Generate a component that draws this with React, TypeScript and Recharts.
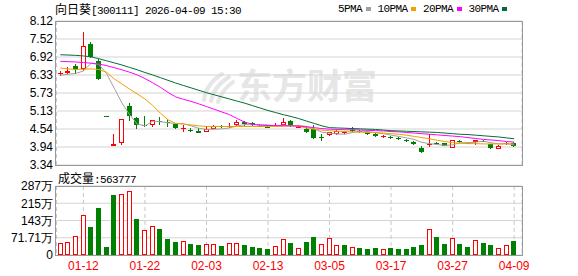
import React from "react";
import { ComposedChart, Bar, Line, XAxis, YAxis, CartesianGrid } from "recharts";

const dates = ["01-07","01-08","01-09","01-12","01-13","01-14","01-15","01-16","01-19","01-20","01-21","01-22","01-23","01-26","01-27","01-28","01-29","01-30","02-02","02-03","02-04","02-05","02-06","02-09","02-10","02-11","02-12","02-13","02-24","02-25","02-26","02-27","03-02","03-03","03-04","03-05","03-06","03-09","03-10","03-11","03-12","03-13","03-16","03-17","03-18","03-19","03-20","03-23","03-24","03-25","03-26","03-27","03-30","03-31","04-01","04-02","04-03","04-07","04-08","04-09"];

const opens = [6.38,6.39,6.64,6.53,7.34,6.80,4.97,3.98,4.08,5.30,4.90,4.68,4.67,4.82,4.78,4.69,4.55,4.52,4.48,4.45,4.55,4.63,4.60,4.67,4.76,4.73,4.66,4.60,4.65,4.67,4.81,4.60,4.55,4.53,4.27,4.34,4.36,4.42,4.52,4.47,4.45,4.38,4.28,4.28,4.23,4.17,4.12,3.90,4.02,4.07,4.06,3.92,4.13,4.10,4.10,4.14,4.03,3.88,4.05,4.08];
const highs = [6.47,6.58,6.69,7.74,7.41,6.86,4.97,4.36,4.86,5.41,4.94,4.97,4.85,4.94,4.86,4.71,4.67,4.58,4.56,4.62,4.66,4.67,4.73,4.84,4.79,4.76,4.70,4.64,4.73,4.90,4.82,4.66,4.60,4.67,4.37,4.44,4.50,4.48,4.60,4.50,4.47,4.40,4.34,4.30,4.27,4.21,4.14,3.97,4.36,4.10,4.08,4.18,4.18,4.12,4.18,4.18,4.05,3.99,4.10,4.10];
const lows = [6.30,6.36,6.36,6.47,6.89,6.16,4.97,3.98,3.99,4.81,4.55,4.61,4.61,4.67,4.61,4.54,4.45,4.43,4.40,4.42,4.53,4.56,4.56,4.65,4.65,4.64,4.60,4.56,4.64,4.66,4.60,4.57,4.40,4.21,4.15,4.30,4.34,4.38,4.44,4.40,4.34,4.28,4.24,4.20,4.17,4.12,4.02,3.73,3.93,4.00,3.96,3.90,4.08,4.03,4.01,4.10,3.88,3.86,4.02,3.94];
const closes = [6.39,6.47,6.53,7.30,6.91,6.21,4.97,4.05,4.86,4.95,4.66,4.67,4.83,4.80,4.77,4.56,4.57,4.51,4.40,4.54,4.64,4.62,4.64,4.78,4.70,4.66,4.62,4.58,4.66,4.78,4.62,4.63,4.44,4.23,4.26,4.42,4.48,4.43,4.50,4.45,4.38,4.30,4.30,4.22,4.21,4.16,4.03,3.78,4.06,4.05,3.98,4.17,4.12,4.06,4.17,4.13,3.90,3.96,4.07,3.97];
const prevCloseBefore = 6.30;

// volume in 万 (10k lots)
const volumes = [49.9,54.0,77.6,164.9,116.4,195.4,33.3,249.4,253.6,264.7,149.7,103.9,119.2,108.1,66.5,54.0,58.2,45.7,41.6,45.7,45.7,37.4,49.9,49.9,41.6,33.3,29.1,24.9,37.4,66.5,51.3,29.1,55.4,76.2,45.7,70.7,41.6,41.6,33.3,29.1,24.9,29.1,24.9,29.1,24.9,24.9,33.3,41.6,106.7,74.8,45.7,69.3,45.7,33.3,61.0,49.9,41.6,29.1,40.2,56.38];
const lastVolume = 563777;

const ma5 = [6.32,6.35,6.38,6.46,6.72,6.68,6.38,5.89,5.40,5.01,4.70,4.64,4.79,4.78,4.74,4.72,4.71,4.64,4.56,4.52,4.53,4.54,4.57,4.64,4.68,4.68,4.68,4.67,4.64,4.66,4.65,4.65,4.62,4.54,4.43,4.40,4.37,4.36,4.42,4.46,4.45,4.41,4.38,4.33,4.29,4.24,4.19,4.09,4.05,4.02,3.99,4.01,4.08,4.08,4.10,4.13,4.08,4.04,4.05,4.01];
const ma10 = [6.56,6.53,6.51,6.52,6.53,6.51,6.42,6.20,6.03,5.86,5.70,5.53,5.32,5.06,4.84,4.72,4.70,4.67,4.64,4.62,4.62,4.62,4.62,4.62,4.62,4.62,4.62,4.62,4.62,4.63,4.64,4.62,4.57,4.53,4.50,4.48,4.46,4.45,4.44,4.43,4.42,4.42,4.40,4.38,4.36,4.33,4.29,4.25,4.21,4.16,4.12,4.08,4.06,4.05,4.05,4.04,4.04,4.04,4.04,4.04];
const ma20 = [6.78,6.77,6.76,6.74,6.72,6.69,6.64,6.57,6.50,6.42,6.33,6.21,6.07,5.92,5.75,5.60,5.52,5.45,5.37,5.28,5.19,5.10,5.01,4.88,4.76,4.69,4.66,4.65,4.65,4.64,4.64,4.63,4.61,4.58,4.55,4.53,4.52,4.51,4.51,4.50,4.49,4.48,4.47,4.45,4.44,4.42,4.40,4.38,4.36,4.34,4.32,4.30,4.28,4.25,4.22,4.19,4.17,4.15,4.12,4.10];
const ma30 = [7.00,6.99,6.98,6.96,6.93,6.87,6.80,6.73,6.66,6.58,6.50,6.41,6.33,6.24,6.15,6.06,5.98,5.90,5.82,5.74,5.67,5.60,5.53,5.46,5.39,5.31,5.23,5.15,5.08,5.01,4.95,4.88,4.80,4.72,4.64,4.58,4.57,4.56,4.55,4.54,4.53,4.52,4.50,4.48,4.47,4.46,4.45,4.44,4.43,4.42,4.40,4.38,4.36,4.35,4.33,4.31,4.29,4.27,4.24,4.21];

const priceTicks = [3.34, 3.9375, 4.535, 5.1325, 5.73, 6.3275, 6.925, 7.5225, 8.12];
const priceTickLabels = ["3.34","3.94","4.54","5.13","5.73","6.33","6.92","7.52","8.12"];
const volTicks = [0, 71.71, 143.42, 215.13, 286.84];
const volTickLabels = ["0","71.71万","143万","215万","287万"];
const xTickDates = ["01-12","01-22","02-03","02-13","03-05","03-17","03-27","04-09"];

const titleName = "向日葵";
const titleRest = "[300111] 2026-04-09 15:30";
const legendItems = [
  { name: "5PMA", key: "ma5", color: "#a0a0a0" },
  { name: "10PMA", key: "ma10", color: "#f0a000" },
  { name: "20PMA", key: "ma20", color: "#ff00ff" },
  { name: "30PMA", key: "ma30", color: "#006e32" },
];

const RED = "#ff0000";
const GREEN = "#008000";
const GRID = "#d4d4d4";
const VGRID = "#c8c8c8";
const FRAME = "#999999";
const SANS = "'Liberation Sans', Arial, sans-serif";
const MONO = "'Liberation Mono', 'DejaVu Sans Mono', monospace";
const CJK = "'Noto Sans CJK SC', sans-serif";

const data = dates.map((d, i) => {
  const prev = i === 0 ? prevCloseBefore : closes[i - 1];
  const o = opens[i];
  const c = closes[i];
  const up = c > o ? true : c < o ? false : c >= prev;
  return {
    date: d,
    open: o,
    high: highs[i],
    low: lows[i],
    close: c,
    range: [lows[i], highs[i]],
    up,
    vol: volumes[i],
    volUp: c >= prev,
    ma5: ma5[i],
    ma10: ma10[i],
    ma20: ma20[i],
    ma30: ma30[i],
  };
});

function Candle(props: any) {
  const { x, y, width, height, payload } = props;
  if (x == null || y == null || !payload) return null;
  const { open, close, high, low, up } = payload;
  const color = up ? RED : GREEN;
  const c = Math.floor(x + width / 2);
  const wx = c + 0.5;
  const span = high - low;
  const ratio = span > 0 ? height / span : 0;
  const py = (v: number) => y + (high - v) * ratio;
  const top = py(Math.max(open, close));
  const bot = py(Math.min(open, close));
  const bodyH = bot - top;
  const els: any[] = [];
  if (span > 0) {
    els.push(
      <line key="w" x1={wx} x2={wx} y1={Math.round(y)} y2={Math.round(y + height)} stroke={color} strokeWidth={1} />
    );
  }
  if (bodyH < 1.5) {
    const yy = Math.round((top + bot) / 2) + 0.5;
    els.push(<line key="b" x1={c - 2} x2={c + 3} y1={yy} y2={yy} stroke={color} strokeWidth={1} />);
  } else if (up) {
    const t = Math.round(top);
    const b = Math.round(bot);
    els.push(
      <rect key="b" x={c - 1.5} y={t + 0.5} width={4} height={Math.max(1, b - t - 1)} fill="#ffffff" stroke={color} strokeWidth={1} />
    );
  } else {
    const t = Math.round(top);
    const b = Math.round(bot);
    els.push(<rect key="b" x={c - 2} y={t} width={5} height={Math.max(1, b - t)} fill={color} />);
  }
  return <g>{els}</g>;
}

function VolBar(props: any) {
  const { x, y, width, height, payload } = props;
  if (x == null || y == null || !payload) return null;
  const c = Math.floor(x + width / 2);
  const top = Math.round(y);
  const bot = Math.round(y + height);
  if (payload.volUp) {
    return <rect x={c - 1.5} y={top + 0.5} width={4} height={Math.max(0, bot - top - 1)} fill="#ffffff" stroke={RED} strokeWidth={1} />;
  }
  return <rect x={c - 2} y={top} width={5} height={Math.max(0, bot - top)} fill={GREEN} />;
}

const yTick = { fill: "#000000", fontSize: 12, fontFamily: SANS };

export default function App() {
  return (
    <div style={{ position: "absolute", left: 0, top: 0, width: 578, height: 276, background: "#ffffff", overflow: "hidden" }}>
      {/* watermark */}
      <svg style={{ position: "absolute", left: 0, top: 0 }} width={578} height={276}>
        <g fill="none" stroke="#e6e6e6" strokeWidth={4} strokeLinecap="round">
          <path d="M204 100 Q206 84 222 74" />
          <path d="M211 101 Q214 86 229 77" />
          <path d="M218 102 Q222 90 233 82" />
        </g>
      </svg>
      <div
        style={{
          position: "absolute",
          left: 237,
          top: 66,
          fontFamily: CJK,
          fontWeight: 700,
          fontSize: 35,
          lineHeight: "35px",
          color: "#e6e6e6",
          whiteSpace: "nowrap",
        }}
      >
        东方财富
      </div>

      {/* price chart */}
      <div style={{ position: "absolute", left: 0, top: 0 }}>
        <ComposedChart width={578} height={178} data={data} margin={{ top: 21, right: 56, bottom: 13, left: 0 }}>
          <CartesianGrid horizontal={true} vertical={false} stroke={GRID} />
          <CartesianGrid horizontal={false} vertical={true} stroke={VGRID} strokeDasharray="4 3" />
          <XAxis
            dataKey="date"
            ticks={xTickDates}
            interval={0}
            height={0}
            tick={false}
            axisLine={false}
            tickLine={false}
            padding={{ left: 0, right: 4 }}
          />
          <YAxis
            domain={[3.34, 8.12]}
            ticks={priceTicks}
            allowDataOverflow={true}
            width={56.5}
            tickSize={0}
            tickMargin={3.5}
            axisLine={false}
            tickLine={false}
            interval={0}
            tick={yTick}
            tickFormatter={(v: any, i: number) => priceTickLabels[i]}
          />
          <Bar dataKey="range" barSize={5} shape={Candle} isAnimationActive={false} />
          {legendItems.map((it) => (
            <Line
              key={it.key}
              type="linear"
              dataKey={it.key}
              stroke={it.color}
              strokeWidth={1}
              dot={false}
              activeDot={false}
              isAnimationActive={false}
            />
          ))}
        </ComposedChart>
      </div>

      {/* volume chart */}
      <div style={{ position: "absolute", left: 0, top: 170 }}>
        <ComposedChart width={578} height={106} data={data} margin={{ top: 16, right: 56, bottom: 0, left: 0 }}>
          <CartesianGrid horizontal={true} vertical={false} stroke={GRID} />
          <CartesianGrid horizontal={false} vertical={true} stroke={VGRID} strokeDasharray="4 3" />
          <XAxis
            dataKey="date"
            ticks={xTickDates}
            interval={0}
            height={21}
            tickSize={0}
            tickMargin={6}
            axisLine={false}
            tickLine={false}
            padding={{ left: 0, right: 4 }}
            tick={{ fill: RED, fontSize: 12, fontFamily: SANS }}
          />
          <YAxis
            domain={[0, 286.84]}
            ticks={volTicks}
            allowDataOverflow={true}
            width={56.5}
            tickSize={0}
            tickMargin={3.5}
            axisLine={false}
            tickLine={false}
            interval={0}
            tick={yTick}
            tickFormatter={(v: any, i: number) => volTickLabels[i]}
          />
          <Bar dataKey="vol" barSize={5} shape={VolBar} isAnimationActive={false} />
        </ComposedChart>
      </div>

      {/* frames */}
      <div style={{ position: "absolute", left: 55, top: 21, width: 468, height: 145, boxSizing: "border-box", border: `1px solid ${FRAME}`, pointerEvents: "none" }} />
      <div style={{ position: "absolute", left: 55, top: 186, width: 468, height: 70, boxSizing: "border-box", border: `1px solid ${FRAME}`, pointerEvents: "none" }} />

      {/* title */}
      <div style={{ position: "absolute", left: 55, top: 1, whiteSpace: "nowrap", color: "#000", lineHeight: "16px" }}>
        <span style={{ fontFamily: CJK, fontSize: 12 }}>{titleName}</span>
        <span style={{ fontFamily: MONO, fontSize: 11, letterSpacing: -0.6 }}>{titleRest}</span>
      </div>

      {/* legend */}
      <div style={{ position: "absolute", left: 338, top: 1, display: "flex", alignItems: "center", whiteSpace: "nowrap", lineHeight: "16px" }}>
        {legendItems.map((it) => (
          <React.Fragment key={it.key}>
            <span style={{ fontFamily: MONO, fontSize: 11, letterSpacing: -0.6, color: "#000" }}>{it.name}</span>
            <span style={{ display: "inline-block", width: 5, height: 4, background: it.color, marginLeft: 3.5, marginRight: 7 }} />
          </React.Fragment>
        ))}
      </div>

      {/* volume label */}
      <div style={{ position: "absolute", left: 58, top: 170, whiteSpace: "nowrap", color: "#000", lineHeight: "16px" }}>
        <span style={{ fontFamily: CJK, fontSize: 12 }}>成交量</span>
        <span style={{ fontFamily: MONO, fontSize: 11, letterSpacing: -0.6 }}>{":" + lastVolume}</span>
      </div>
    </div>
  );
}
